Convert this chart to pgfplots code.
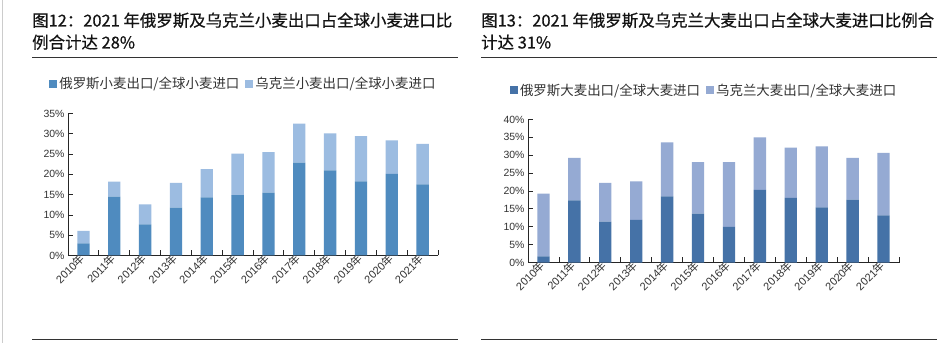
\documentclass[border=0pt]{standalone}
\usepackage{fontspec}
\setmainfont{Liberation Sans}
\newfontfamily\cjk{Noto Sans CJK SC}
\newfontfamily\cjkt[FakeBold=0.6]{Noto Sans CJK SC}
\usepackage{pgfplots}
\usepackage{pgfplotstable}
\pgfplotsset{compat=1.18}
\definecolor{ldark}{HTML}{4F8BBF}
\definecolor{llight}{HTML}{9CBCE1}
\definecolor{rdark}{HTML}{4572A7}
\definecolor{rlight}{HTML}{95AAD3}
\definecolor{txt}{HTML}{333333}
\pgfplotstableread{
x rus ukr
0 3.0 3.1
1 14.5 3.7
2 7.7 4.9
3 11.8 6.1
4 14.3 7.0
5 14.9 10.2
6 15.5 10.0
7 22.9 9.6
8 21.0 9.1
9 18.3 11.1
10 20.1 8.3
11 17.5 10.0
}\wheat
\pgfplotstableread{
x rus ukr
0 1.7 17.6
1 17.4 11.9
2 11.4 10.9
3 11.9 10.8
4 18.5 15.1
5 13.7 14.4
6 10.0 18.1
7 20.3 14.7
8 18.1 14.0
9 15.4 17.1
10 17.6 11.7
11 13.2 17.5
}\barley
\pgfplotsset{panel/.style={
  scale only axis, ybar stacked, bar width=0.4,
  xmin=-0.5, xmax=11.5, ymin=0,
  axis x line*=bottom, axis y line*=left,
  axis line style={line width=0.8bp, color=black!85},
  xtick={0,...,11}, major x tick style={draw=none},
  minor xtick={0.5,1.5,...,11.5},
  tick align=inside, major tick length=5bp, minor tick length=5bp,
  tick style={line width=0.8bp, color=black!85},
  ytick distance=5,
  yticklabel={\pgfmathprintnumber{\tick}\%},
  /pgf/number format/assume math mode=true,
  ticklabel style={font=\fontsize{10.5}{10.5}\selectfont, text=txt},
  xticklabels={2010{\cjk 年},2011{\cjk 年},2012{\cjk 年},2013{\cjk 年},2014{\cjk 年},2015{\cjk 年},2016{\cjk 年},2017{\cjk 年},2018{\cjk 年},2019{\cjk 年},2020{\cjk 年},2021{\cjk 年}},
  xticklabel style={rotate=45, anchor=east, inner sep=1bp, font=\fontsize{11}{11}\selectfont},
  legend columns=2,
  legend style={draw=none, fill=none, inner sep=0pt, anchor=west,
    font=\cjk\fontsize{13.5}{13.5}\selectfont, text=txt,
    /tikz/every even column/.append style={column sep=4bp}},
  legend image code/.code={\fill[##1] (0bp,-4bp) rectangle (8bp,4bp);},
}}
\begin{document}
\begin{tikzpicture}
\path[fill=white] (0bp,0bp) rectangle (938bp,342bp);
\draw[black!20, line width=1bp] (2bp,0bp) -- (2bp,342bp);
% titles
\tikzset{ttl/.style={anchor=base west, inner sep=0, text=black!92, font=\cjkt\fontsize{16.5}{16.5}\selectfont}}
\node[ttl] at (32bp,316bp) {图12：2021 年俄罗斯及乌克兰小麦出口占全球小麦进口比};
\node[ttl] at (32bp,294bp) {例合计达 28\%};
\node[ttl] at (481bp,316bp) {图13：2021 年俄罗斯及乌克兰大麦出口占全球大麦进口比例合};
\node[ttl] at (481bp,294bp) {计达 31\%};
\draw[black!80, line width=1.2bp] (32bp,285bp) -- (458bp,285bp);
\draw[black!80, line width=1.2bp] (481bp,285bp) -- (937bp,285bp);
\draw[black!80, line width=1.2bp] (32bp,3bp) -- (458bp,3bp);
\draw[black!80, line width=1.2bp] (481bp,3bp) -- (937bp,3bp);
\begin{axis}[panel, at={(68bp,87bp)}, anchor=south west, width=370bp, height=142bp, ymax=35,
  legend style={at={(axis description cs:-0.051,1.211)}}]
\addplot[fill=ldark, draw=none] table[x=x,y=rus]{\wheat};
\addplot[fill=llight, draw=none] table[x=x,y=ukr]{\wheat};
\legend{俄罗斯小麦出口/全球小麦进口, 乌克兰小麦出口/全球小麦进口}
\end{axis}
\begin{axis}[panel, at={(528bp,80bp)}, anchor=south west, width=371bp, height=143bp, ymax=40,
  legend style={at={(axis description cs:-0.049,1.203)}}]
\addplot[fill=rdark, draw=none] table[x=x,y=rus]{\barley};
\addplot[fill=rlight, draw=none] table[x=x,y=ukr]{\barley};
\legend{俄罗斯大麦出口/全球大麦进口, 乌克兰大麦出口/全球大麦进口}
\end{axis}
\end{tikzpicture}
\end{document}
